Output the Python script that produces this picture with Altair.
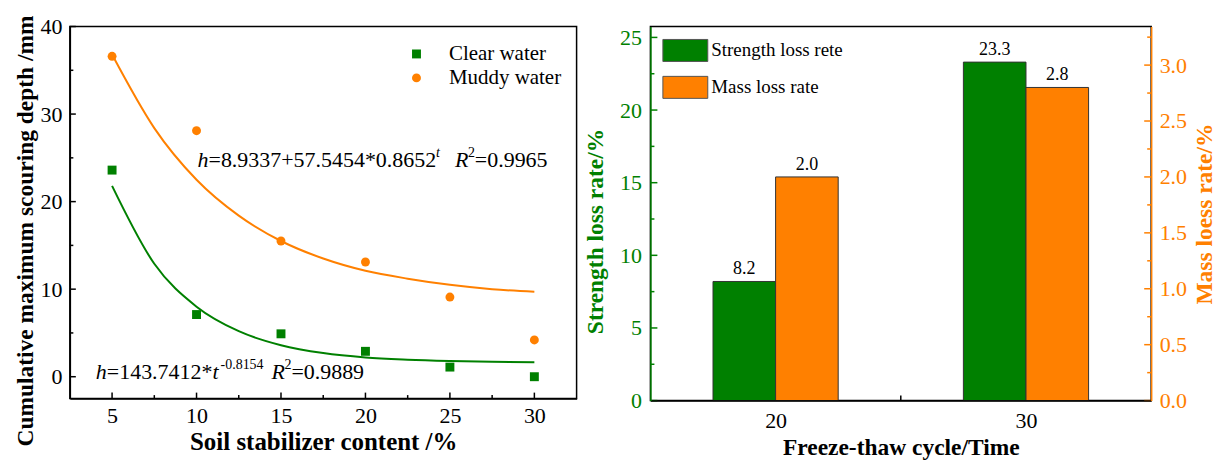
import altair as alt
import pandas as pd

FONT = "Liberation Serif"
GREEN = "#008000"
ORANGE = "#FF8000"

# ---------------- data: left panel ----------------
content = [5, 10, 15, 20, 25, 30]
clear_water = [23.6, 7.1, 4.9, 2.9, 1.1, 0.0]
muddy_water = [36.6, 28.1, 15.5, 13.1, 9.1, 4.2]

fit_t = [5, 7.5, 10, 12.5, 15, 17.5, 20, 22.5, 25, 27.5, 30]
fit_clear = [21.8, 12.9, 8.0, 5.2, 3.6, 2.7, 2.2, 1.95, 1.8, 1.7, 1.66]
fit_muddy = [36.8, 28.4, 22.5, 18.4, 15.5, 13.5, 12.1, 11.2, 10.5, 10.0, 9.7]

series_names = ["Clear water", "Muddy water"]

x1_major = [5, 10, 15, 20, 25, 30]
x1_minor = [7.5, 12.5, 17.5, 22.5, 27.5]
y1_major = [0, 10, 20, 30, 40]
y1_minor = [5, 15, 25, 35]

# annotation anchors (data coords) and pieces: text, dx, dy, size, style
ann_orange_anchor = (10.06, 23.93)
ann_orange = [("h", 0, 0, 22, "italic"), ("=8.9337+57.5454*0.8652", 11, 0, 22, "normal"),
              ("t", 239, -10, 14, "italic"), ("R", 258, 0, 22, "italic"),
              ("2", 271, -10, 14, "normal"), ("=0.9965", 278, 0, 22, "normal")]
ann_green_anchor = (4.04, -0.23)
ann_green = [("h", 0, 0, 22, "italic"), ("=143.7412*", 11, 0, 22, "normal"),
             ("t", 117, 0, 22, "italic"), ("-0.8154", 125, -10, 14, "normal"),
             ("R", 176, 0, 22, "italic"), ("2", 189, -10, 14, "normal"),
             ("=0.9889", 196, 0, 22, "normal")]

# ---------------- data: right panel ----------------
cycles = [20, 30]
strength_loss = [8.2, 23.3]
mass_loss = [2.0, 2.8]
bar_names = ["Strength loss rete", "Mass loss rate"]
yl_major = [0, 5, 10, 15, 20, 25]
yl_minor = [2.5, 7.5, 12.5, 17.5, 22.5]
yr_major = [0, 0.5, 1.0, 1.5, 2.0, 2.5, 3.0]
yr_minor = [0.25, 0.75, 1.25, 1.75, 2.25, 2.75, 3.25]
x2_mid = [25]

AXF = dict(labelFont=FONT, labelFontSize=22, titleFont=FONT,
           titleFontWeight="bold", grid=False, domainWidth=1.5, labelAngle=0)

# ================= LEFT PANEL =================
W1, H1 = 508, 373
xs1 = alt.Scale(domain=[2.5, 32.5], nice=False, zero=False)
ys1 = alt.Scale(domain=[-2.5, 40], nice=False, zero=False)
ax1x = alt.Axis(values=x1_major, title="Soil stabilizer content /%", ticks=False,
                labelPadding=7, titlePadding=3, titleFontSize=25, format="d", labelColor="black",
                titleColor="black", domainColor="black", **AXF)
ax1y = alt.Axis(values=y1_major, title="Cumulative maximum scouring depth /mm", ticks=False,
                labelPadding=8, titlePadding=2, titleFontSize=23.5, format="d", labelColor="black",
                titleColor="black", domainColor="black", titleY=H1 / 2 + 18, **AXF)


def X1(f):
    return alt.X(f, scale=xs1, axis=ax1x)


def Y1(f):
    return alt.Y(f, scale=ys1, axis=ax1y)


pts = pd.DataFrame({
    "content": content * 2,
    "value": clear_water + muddy_water,
    "series": [series_names[0]] * len(content) + [series_names[1]] * len(content),
})

leg1 = alt.Legend(title=None, orient="none", legendX=337, legendY=17, labelFont=FONT,
                  labelFontSize=21, symbolSize=80, labelOffset=22, rowPadding=2,
                  symbolStrokeWidth=0, padding=0)

points = alt.Chart(pts).mark_point(filled=True, size=80, opacity=1).encode(
    x=X1("content:Q"), y=Y1("value:Q"),
    color=alt.Color("series:N", scale=alt.Scale(domain=series_names, range=[GREEN, ORANGE]), legend=leg1),
    shape=alt.Shape("series:N", scale=alt.Scale(domain=series_names, range=["square", "circle"]), legend=leg1),
)

fit_c_df = pd.DataFrame({"t": fit_t, "v": fit_clear})
fit_m_df = pd.DataFrame({"t": fit_t, "v": fit_muddy})
line_c = alt.Chart(fit_c_df).mark_line(color=GREEN, strokeWidth=2, interpolate="monotone").encode(
    x=X1("t:Q"), y=Y1("v:Q"))
line_m = alt.Chart(fit_m_df).mark_line(color=ORANGE, strokeWidth=2, interpolate="monotone").encode(
    x=X1("t:Q"), y=Y1("v:Q"))


def ann_layers(anchor, pieces):
    out = []
    for text, dx, dy, size, style in pieces:
        df = pd.DataFrame({"x": [anchor[0]], "y": [anchor[1]], "t": [text]})
        out.append(alt.Chart(df).mark_text(align="left", baseline="alphabetic", dx=dx, dy=dy,
                                           fontSize=size, fontStyle=style, font=FONT, color="black")
                   .encode(x=X1("x:Q"), y=Y1("y:Q"), text="t:N"))
    return out


def vrules_bottom(vals, length, xenc, h, color):
    df = pd.DataFrame({"v": vals})
    return alt.Chart(df).mark_rule(color=color, strokeWidth=1.5).encode(
        x=xenc("v:Q"), y=alt.value(h), y2=alt.value(h - length))


def hrules(vals, length, yenc, x0, sign, color):
    df = pd.DataFrame({"v": vals})
    return alt.Chart(df).mark_rule(color=color, strokeWidth=1.5).encode(
        y=yenc("v:Q"), x=alt.value(x0), x2=alt.value(x0 + sign * length))


left = alt.layer(
    line_m, line_c, points,
    *ann_layers(ann_orange_anchor, ann_orange),
    *ann_layers(ann_green_anchor, ann_green),
    vrules_bottom(x1_major, 6, X1, H1, "black"),
    vrules_bottom(x1_minor, 3.5, X1, H1, "black"),
    hrules(y1_major, 6, Y1, 0, 1, "black"),
    hrules(y1_minor, 3.5, Y1, 0, 1, "black"),
).properties(width=W1, height=H1)

# ================= RIGHT PANEL =================
W2, H2 = 502, 375
xs2 = alt.Scale(domain=[15, 35], nice=False, zero=False)
ysl = alt.Scale(domain=[0, 25.75], nice=False)
ysr = alt.Scale(domain=[0, 3.345], nice=False)
ax2x = alt.Axis(values=[20, 25, 30], labelExpr="datum.value == 25 ? '' : datum.label",
                title="Freeze-thaw cycle/Time", ticks=False, labelPadding=10, titlePadding=4,
                titleFontSize=23.5, zindex=1, labelColor="black", titleColor="black",
                domainColor="black", **AXF)
axL = alt.Axis(values=yl_major, orient="left", title="Strength loss rate/%", ticks=False,
               labelColor=GREEN, titleColor=GREEN, domainColor=GREEN, labelPadding=9,
               titlePadding=12, titleFontSize=23.5, titleY=205, zindex=1, format="d", **AXF)
axR = alt.Axis(values=yr_major, orient="right", title="Mass loess rate/%", ticks=False,
               labelColor=ORANGE, titleColor=ORANGE, domainColor=ORANGE, labelPadding=8,
               titlePadding=6, titleFontSize=23.5, zindex=1, format=".1f", titleAngle=270,
               titleBaseline="top", **AXF)


def X2(f):
    return alt.X(f, scale=xs2, axis=ax2x)


def YL(f):
    return alt.Y(f, scale=ysl, axis=axL)


def YR(f):
    return alt.Y(f, scale=ysr, axis=axR)


bar_df = pd.DataFrame({"cycle": cycles, "strength": strength_loss, "mass": mass_loss})
bar_color = alt.Scale(domain=bar_names, range=[GREEN, ORANGE])
leg2 = alt.Legend(title=None, orient="none", legendX=12, legendY=1, labelFont=FONT,
                  labelFontSize=19, symbolType="M-1,-0.49H1V0.49H-1Z", symbolSize=2025,
                  symbolStrokeColor="#555555", symbolStrokeWidth=1, labelOffset=3,
                  rowPadding=-21, padding=0)

green_bars = alt.Chart(bar_df).transform_calculate(
    x0="datum.cycle - 2.5", z="0", s="'Strength loss rete'"
).mark_bar(stroke="#333333", strokeWidth=1, opacity=1).encode(
    x=X2("x0:Q"), x2="cycle:Q", y=YL("strength:Q"), y2="z:Q",
    color=alt.Color("s:N", scale=bar_color, legend=leg2))
green_text = alt.Chart(bar_df).transform_calculate(xc="datum.cycle - 1.25").mark_text(
    baseline="bottom", dy=-3, fontSize=18, font=FONT, color="black").encode(
    x=X2("xc:Q"), y=YL("strength:Q"), text=alt.Text("strength:Q", format=".1f"))

orange_bars = alt.Chart(bar_df).transform_calculate(
    x1="datum.cycle + 2.5", z="0", s="'Mass loss rate'"
).mark_bar(stroke="#333333", strokeWidth=1, opacity=1).encode(
    x=X2("cycle:Q"), x2="x1:Q", y=YR("mass:Q"), y2="z:Q",
    color=alt.Color("s:N", scale=bar_color, legend=leg2))
orange_text = alt.Chart(bar_df).transform_calculate(xc="datum.cycle + 1.25").mark_text(
    baseline="bottom", dy=-3, fontSize=18, font=FONT, color="black").encode(
    x=X2("xc:Q"), y=YR("mass:Q"), text=alt.Text("mass:Q", format=".1f"))

layerA = alt.layer(
    green_bars, green_text,
    hrules(yl_major, 7, YL, 0, 1, GREEN),
    hrules(yl_minor, 4, YL, 0, 1, GREEN),
    vrules_bottom(x2_mid, 5, X2, H2, "black"),
)
layerB = alt.layer(
    orange_bars, orange_text,
    hrules(yr_major, 7, YR, W2, -1, ORANGE),
    hrules(yr_minor, 4, YR, W2, -1, ORANGE),
)
right = alt.layer(layerA, layerB).resolve_scale(y="independent").properties(width=W2, height=H2)

chart = alt.hconcat(left, right, spacing=5).resolve_scale(
    color="independent", shape="independent"
).configure_view(stroke="black", strokeWidth=1.5)

chart.save("out.html", embed_options={"renderer": "svg", "actions": False})
